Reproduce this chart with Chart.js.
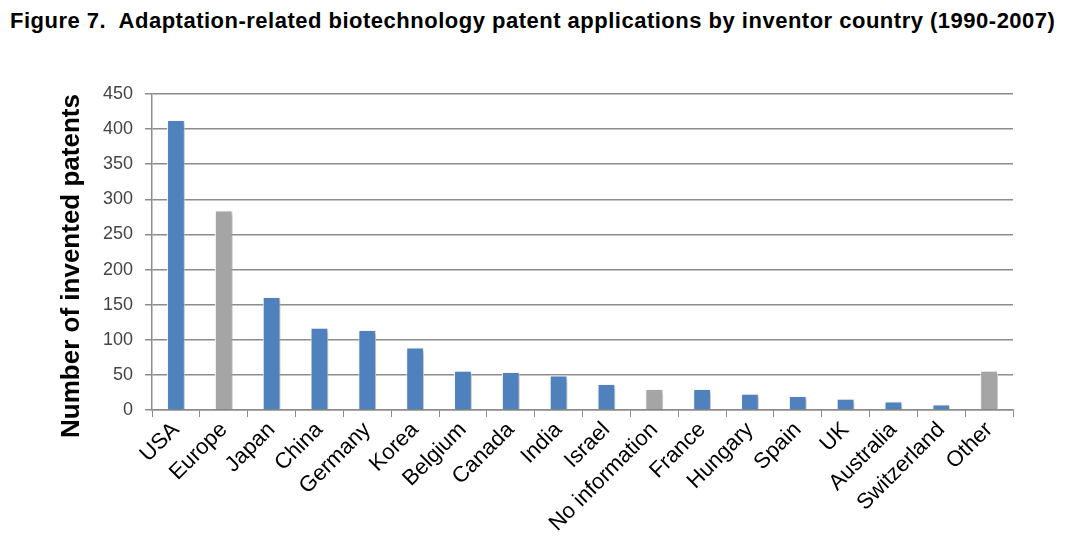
<!DOCTYPE html>
<html lang="en">
<head>
  <meta charset="UTF-8" />
  <title>Adaptation-related biotechnology patents</title>
  <script src="https://cdn.jsdelivr.net/npm/chart.js"></script>
  <style>
    body {
      margin: 0;
      background: #ffffff;
      font-family: "Liberation Sans", Arial, sans-serif;
    }
    .fig-title {
      position: absolute;
      left: 10px;
      top: 8px;
      font-weight: bold;
      font-size: 22px;
      letter-spacing: 0.5px;
      color: #000;
      white-space: nowrap;
    }
    .wrap {
      position: absolute;
      left: 0;
      top: 0;
      width: 1073px;
      height: 557px;
    }
  </style>
</head>
<body>
  <div class="fig-title">Figure 7.&nbsp; Adaptation-related biotechnology patent applications by inventor country (1990-2007)</div>
  <div class="wrap"><canvas id="patentChart" width="1073" height="557"></canvas></div>

  <script>
    const countries = ['USA', 'Europe', 'Japan', 'China', 'Germany', 'Korea', 'Belgium', 'Canada', 'India',
      'Israel', 'No information', 'France', 'Hungary', 'Spain', 'UK', 'Australia', 'Switzerland', 'Other'];
    const patents = [413, 284, 161, 117, 114, 89, 56, 54, 49, 37, 30, 30, 23, 20, 16, 12, 8, 56];
    // grouped entries (Europe, No information, Other) are drawn grey
    const grouped = ['Europe', 'No information', 'Other'];
    const yTicks = [0, 50, 100, 150, 200, 250, 300, 350, 400, 450];
    const yTitle = 'Number of invented patents';

    const barColors = countries.map(c => grouped.includes(c) ? '#a5a5a5' : '#4f81bd');

    // soft drop shadow behind the bars
    const shadowPlugin = {
      id: 'barShadow',
      beforeDatasetDraw(chart) {
        const c = chart.ctx;
        c.save();
        c.shadowColor = 'rgba(0,0,0,0.3)';
        c.shadowBlur = 4;
        c.shadowOffsetX = 2;
        c.shadowOffsetY = 2;
      },
      afterDatasetDraw(chart) {
        chart.ctx.restore();
      }
    };

    // y axis title sits a bit lower than the plot centre in the original
    const yTitlePlugin = {
      id: 'yTitle',
      afterDraw(chart) {
        const c = chart.ctx;
        const mid = (chart.chartArea.top + chart.chartArea.bottom) / 2 + 14;
        c.save();
        c.translate(72, mid);
        c.rotate(-Math.PI / 2);
        c.font = 'bold 26px "Liberation Sans", Arial, sans-serif';
        c.fillStyle = '#000';
        c.textAlign = 'center';
        c.textBaseline = 'middle';
        c.fillText(yTitle, 0, 0);
        c.restore();
      }
    };

    const ctx = document.getElementById('patentChart').getContext('2d');
    new Chart(ctx, {
      type: 'bar',
      data: {
        labels: countries,
        datasets: [{
          label: yTitle,
          data: patents,
          backgroundColor: barColors,
          borderColor: '#ffffff',
          borderWidth: 1,
          categoryPercentage: 1.0,
          barPercentage: 0.37
        }]
      },
      plugins: [shadowPlugin, yTitlePlugin],
      options: {
        responsive: false,
        animation: false,
        layout: {
          padding: { left: 50, right: 60, top: 94, bottom: 0 }
        },
        plugins: {
          legend: { display: false },
          tooltip: { enabled: false },
          title: { display: false }
        },
        scales: {
          x: {
            grid: {
              drawOnChartArea: false,
              drawTicks: true,
              tickLength: 7,
              color: '#8c8c8c'
            },
            border: { color: '#8c8c8c', width: 1.5 },
            ticks: {
              color: '#000',
              font: { family: 'Liberation Sans', size: 22 },
              maxRotation: 45,
              minRotation: 45,
              autoSkip: false,
              padding: 0
            },
            afterFit(scale) { scale.height = 147; }
          },
          y: {
            min: 0,
            max: 450,
            afterBuildTicks(scale) {
              scale.ticks = yTicks.map(v => ({ value: v }));
            },
            grid: {
              color: '#8c8c8c',
              lineWidth: 1.5,
              tickLength: 7
            },
            border: { color: '#8c8c8c', width: 1.5 },
            ticks: {
              color: '#444',
              font: { family: 'Liberation Sans', size: 18 },
              padding: 12
            },
            afterFit(scale) { scale.width = 102; }
          }
        }
      }
    });
  </script>
</body>
</html>
